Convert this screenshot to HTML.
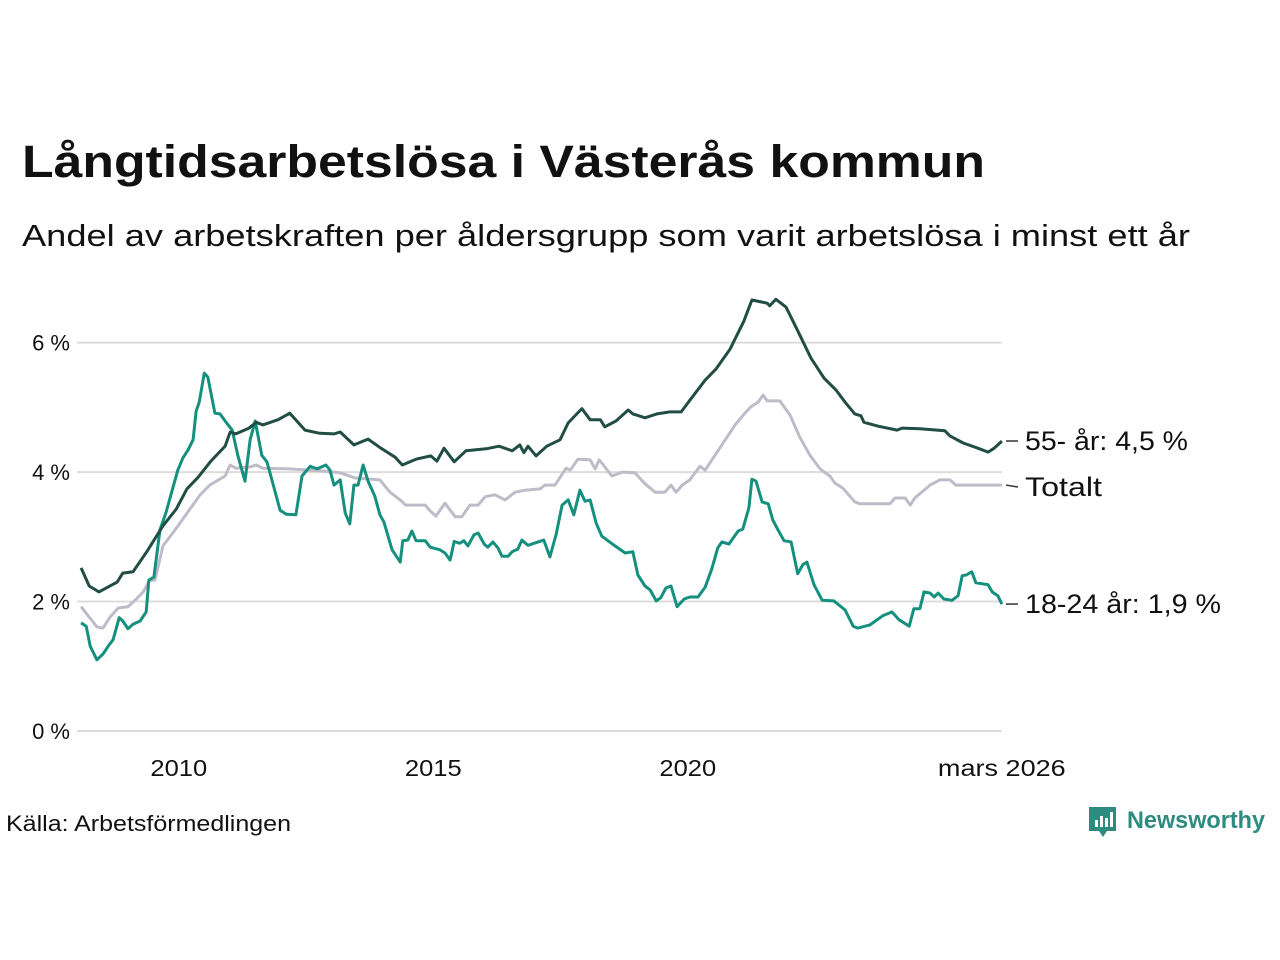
<!DOCTYPE html>
<html><head><meta charset="utf-8"><style>
body{margin:0;background:#fff;}
svg{display:block;font-family:"Liberation Sans","DejaVu Sans",sans-serif;}
</style></head><body>
<svg id="chart" width="1280" height="960" viewBox="0 0 1280 960">
<text x="22" y="177" font-size="45" font-weight="bold" fill="#111" textLength="963" lengthAdjust="spacingAndGlyphs">Långtidsarbetslösa i Västerås kommun</text>
<text x="22" y="246" font-size="31" fill="#111" textLength="1168" lengthAdjust="spacingAndGlyphs">Andel av arbetskraften per åldersgrupp som varit arbetslösa i minst ett år</text>
<g id="grid"></g>
<g id="series"></g>
<g id="labels"></g>
<text x="6" y="831" font-size="22" fill="#111" textLength="285" lengthAdjust="spacingAndGlyphs">Källa: Arbetsförmedlingen</text>
<g>
<path d="M1089 807 h27 v24 h-9 l-4 6 l-4 -6 h-10 z" fill="#2e8b7f"/>
<rect x="1095" y="820" width="3" height="7" fill="#fff"/><rect x="1100" y="816" width="3" height="11" fill="#fff"/><rect x="1105" y="818" width="3" height="9" fill="#fff"/><rect x="1110" y="812" width="3" height="15" fill="#fff"/>
<text x="1127" y="828" font-size="24" font-weight="bold" fill="#2e8b7f" textLength="138" lengthAdjust="spacingAndGlyphs">Newsworthy</text>
</g>
</svg>
<script>
const yTicks=[0,2,4,6];
const xTickYears=[2010,2015,2020,2026.17];
const xTickLabels=["2010","2015","2020","mars 2026"];
const oldT=[2008.08,2008.24,2008.43,2008.79,2008.90,2009.10,2009.38,2009.69,2009.95,2010.16,2010.38,2010.63,2010.91,2011.01,2011.12,2011.38,2011.52,2011.65,2011.95,2012.18,2012.48,2012.77,2013.05,2013.17,2013.44,2013.72,2013.97,2014.25,2014.39,2014.66,2014.95,2015.07,2015.21,2015.41,2015.64,2016.04,2016.29,2016.55,2016.70,2016.78,2016.86,2017.02,2017.23,2017.49,2017.65,2017.82,2017.92,2018.08,2018.28,2018.37,2018.59,2018.83,2018.92,2019.16,2019.39,2019.65,2019.87,2020.04,2020.34,2020.55,2020.83,2021.10,2021.26,2021.56,2021.61,2021.73,2021.93,2022.15,2022.42,2022.68,2022.91,2023.09,2023.28,2023.40,2023.46,2023.74,2024.11,2024.21,2024.56,2024.90,2025.05,2025.15,2025.41,2025.70,2025.90,2026.02,2026.17];
const oldV=[2.52,2.24,2.15,2.30,2.44,2.46,2.78,3.17,3.43,3.74,3.92,4.17,4.40,4.62,4.59,4.68,4.77,4.73,4.81,4.91,4.65,4.60,4.59,4.62,4.42,4.51,4.37,4.23,4.11,4.20,4.25,4.17,4.37,4.16,4.33,4.36,4.40,4.33,4.42,4.30,4.40,4.25,4.40,4.50,4.76,4.90,4.98,4.81,4.81,4.70,4.79,4.96,4.90,4.84,4.90,4.93,4.93,5.11,5.42,5.59,5.90,6.33,6.66,6.61,6.57,6.67,6.55,6.20,5.76,5.45,5.27,5.08,4.90,4.87,4.77,4.71,4.65,4.68,4.67,4.65,4.64,4.56,4.45,4.37,4.31,4.37,4.48];
const totT=[2008.08,2008.22,2008.39,2008.51,2008.65,2008.81,2009.00,2009.14,2009.30,2009.43,2009.53,2009.69,2009.93,2010.22,2010.42,2010.61,2010.91,2011.01,2011.12,2011.40,2011.52,2011.65,2012.18,2012.77,2013.17,2013.46,2013.95,2014.15,2014.35,2014.46,2014.84,2014.94,2015.05,2015.23,2015.43,2015.56,2015.72,2015.88,2016.02,2016.21,2016.41,2016.61,2016.80,2017.10,2017.19,2017.39,2017.61,2017.69,2017.84,2018.08,2018.18,2018.26,2018.51,2018.71,2018.96,2019.16,2019.36,2019.55,2019.67,2019.77,2019.89,2020.04,2020.24,2020.34,2020.93,2021.12,2021.24,2021.38,2021.48,2021.56,2021.81,2022.01,2022.20,2022.40,2022.60,2022.79,2022.89,2023.05,2023.28,2023.38,2023.97,2024.07,2024.27,2024.37,2024.46,2024.76,2024.95,2025.15,2025.27,2026.17];
const totV=[1.92,1.78,1.61,1.59,1.76,1.90,1.92,2.02,2.15,2.33,2.33,2.86,3.11,3.43,3.65,3.80,3.94,4.11,4.06,4.08,4.11,4.06,4.05,4.02,3.99,3.91,3.88,3.69,3.57,3.49,3.49,3.40,3.32,3.52,3.31,3.31,3.49,3.49,3.62,3.65,3.57,3.69,3.72,3.74,3.80,3.80,4.06,4.03,4.20,4.19,4.05,4.19,3.94,4.00,3.99,3.82,3.69,3.69,3.80,3.69,3.80,3.88,4.09,4.03,4.73,4.91,5.01,5.08,5.19,5.10,5.10,4.88,4.54,4.26,4.05,3.94,3.83,3.75,3.54,3.51,3.51,3.60,3.60,3.49,3.60,3.80,3.88,3.88,3.80,3.80];
const youngT=[2008.08,2008.18,2008.26,2008.39,2008.51,2008.63,2008.71,2008.83,2008.90,2009.00,2009.10,2009.24,2009.36,2009.41,2009.51,2009.63,2009.75,2009.87,2009.98,2010.08,2010.18,2010.28,2010.34,2010.40,2010.50,2010.57,2010.71,2010.81,2010.93,2011.05,2011.16,2011.30,2011.40,2011.50,2011.63,2011.73,2011.83,2011.99,2012.11,2012.30,2012.42,2012.58,2012.72,2012.89,2012.97,2013.05,2013.17,2013.27,2013.36,2013.44,2013.52,2013.62,2013.72,2013.85,2013.95,2014.03,2014.19,2014.35,2014.40,2014.50,2014.58,2014.66,2014.84,2014.94,2015.13,2015.23,2015.33,2015.41,2015.52,2015.60,2015.68,2015.80,2015.88,2016.00,2016.07,2016.17,2016.27,2016.35,2016.47,2016.55,2016.66,2016.74,2016.86,2017.17,2017.29,2017.41,2017.53,2017.65,2017.76,2017.88,2017.98,2018.08,2018.20,2018.31,2018.57,2018.77,2018.92,2019.02,2019.16,2019.26,2019.38,2019.47,2019.57,2019.67,2019.79,2019.93,2020.04,2020.20,2020.34,2020.47,2020.59,2020.67,2020.81,2020.89,2020.99,2021.08,2021.20,2021.26,2021.34,2021.46,2021.58,2021.67,2021.77,2021.89,2022.03,2022.16,2022.26,2022.34,2022.48,2022.64,2022.87,2023.09,2023.25,2023.34,2023.58,2023.83,2024.01,2024.15,2024.35,2024.44,2024.56,2024.64,2024.76,2024.84,2024.92,2025.03,2025.19,2025.31,2025.39,2025.47,2025.58,2025.66,2025.90,2025.98,2026.09,2026.17];
const youngV=[1.67,1.62,1.31,1.10,1.19,1.33,1.41,1.75,1.70,1.58,1.65,1.70,1.84,2.33,2.38,3.11,3.38,3.72,4.03,4.22,4.34,4.50,4.94,5.08,5.53,5.47,4.91,4.90,4.77,4.65,4.26,3.86,4.50,4.79,4.26,4.16,3.88,3.41,3.35,3.34,3.94,4.09,4.05,4.11,4.03,3.80,3.88,3.37,3.20,3.80,3.80,4.11,3.86,3.63,3.34,3.23,2.80,2.61,2.94,2.95,3.09,2.94,2.94,2.84,2.80,2.75,2.64,2.93,2.90,2.94,2.86,3.03,3.06,2.89,2.84,2.92,2.83,2.70,2.70,2.77,2.81,2.95,2.87,2.95,2.69,3.03,3.49,3.57,3.34,3.72,3.55,3.57,3.21,3.01,2.86,2.75,2.77,2.41,2.24,2.18,2.01,2.06,2.21,2.24,1.92,2.04,2.07,2.07,2.22,2.50,2.83,2.92,2.89,2.98,3.09,3.12,3.45,3.89,3.86,3.54,3.51,3.26,3.11,2.94,2.92,2.43,2.57,2.61,2.26,2.02,2.01,1.87,1.62,1.59,1.64,1.78,1.84,1.72,1.62,1.89,1.89,2.15,2.13,2.07,2.13,2.04,2.02,2.09,2.40,2.41,2.46,2.29,2.26,2.15,2.09,1.96];
const seriesLabels=["55- år: 4,5 %","Totalt","18-24 år: 1,9 %"];

const NS="http://www.w3.org/2000/svg";
const X=t=>77+(t-2008)*50.9;
const Y=v=>731-v*64.72;
const grid=document.getElementById('grid');
yTicks.forEach(v=>{
  const l=document.createElementNS(NS,'line');
  l.setAttribute('x1',77);l.setAttribute('x2',1002);l.setAttribute('y1',Y(v));l.setAttribute('y2',Y(v));
  l.setAttribute('stroke','#dcdcdc');l.setAttribute('stroke-width','2');
  
  
  grid.appendChild(l);
  const t=document.createElementNS(NS,'text');
  t.setAttribute('x',70);t.setAttribute('y',Y(v)+8);t.setAttribute('text-anchor','end');
  t.setAttribute('font-size','22');t.setAttribute('fill','#111');
  t.textContent=v+' %';
  
  
  grid.appendChild(t);
});
xTickYears.forEach((yr,i)=>{
  const t=document.createElementNS(NS,'text');
  t.setAttribute('x',X(yr));t.setAttribute('y',776);t.setAttribute('text-anchor','middle');
  t.setAttribute('font-size','23');t.setAttribute('fill','#111');
  t.setAttribute('textLength',xTickLabels[i].length*14.2);
  t.setAttribute('lengthAdjust','spacingAndGlyphs');
  t.textContent=xTickLabels[i];
  
  
  grid.appendChild(t);
});
const sg=document.getElementById('series');
function line(ts,vs,color,name){
  const p=document.createElementNS(NS,'polyline');
  p.setAttribute('points',ts.map((t,i)=>X(t).toFixed(1)+','+Y(vs[i]).toFixed(1)).join(' '));
  p.setAttribute('fill','none');p.setAttribute('stroke',color);p.setAttribute('stroke-width','3');
  p.setAttribute('stroke-linejoin','round');
  
  
  sg.appendChild(p);
}
line(totT,totV,'#bfbcc9','line-totalt');
line(youngT,youngV,'#15907f','line-18-24');
line(oldT,oldV,'#214d45','line-55-plus');
const lg=document.getElementById('labels');
[[oldV,seriesLabels[0],441,163],[totV,seriesLabels[1],487,77],[youngV,seriesLabels[2],604,196]].forEach(([vs,txt,ly,w])=>{
  const yv=Y(vs[vs.length-1]);
  const d=document.createElementNS(NS,'line');
  d.setAttribute('x1',1006);d.setAttribute('x2',1018);d.setAttribute('y1',yv);d.setAttribute('y2',ly);
  d.setAttribute('stroke','#333');d.setAttribute('stroke-width','1.5');
  
  
  lg.appendChild(d);
  const t=document.createElementNS(NS,'text');
  t.setAttribute('x',1025);t.setAttribute('y',ly+9);t.setAttribute('font-size','27');t.setAttribute('fill','#111');
  t.setAttribute('textLength',w);t.setAttribute('lengthAdjust','spacingAndGlyphs');
  t.textContent=txt;
  
  
  lg.appendChild(t);
});
</script>
</body></html>
